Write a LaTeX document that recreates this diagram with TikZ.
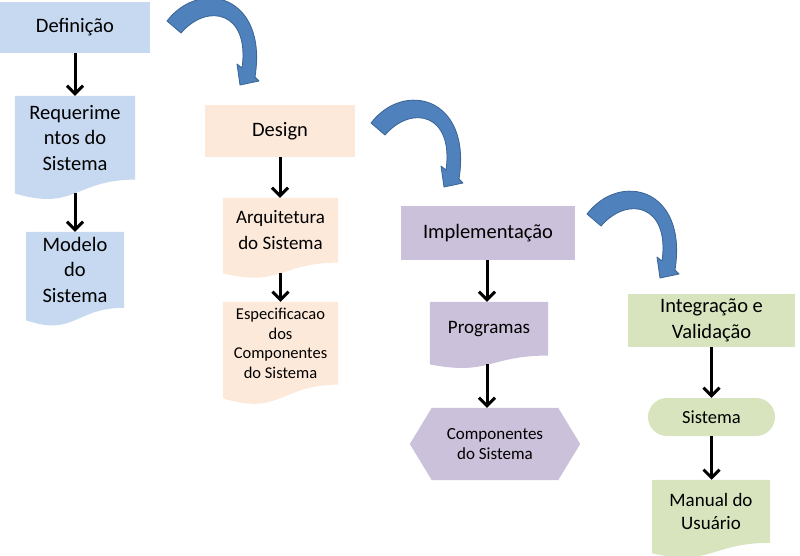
\documentclass[tikz,border=0pt]{standalone}
\usepackage{fontspec}
\setmainfont{Carlito}
\usetikzlibrary{arrows.meta,calc,backgrounds}
\definecolor{cblue}{HTML}{C6D9F1}
\definecolor{cpeach}{HTML}{FDE9D9}
\definecolor{clav}{HTML}{CCC1DA}
\definecolor{cgreen}{HTML}{D7E4BD}
\definecolor{arrblue}{HTML}{4F81BD}
\definecolor{arredge}{HTML}{3A6494}
\newcommand\mydocfill[2]{%
  \path[fill=#2] let \p1=(#1.north west), \p2=(#1.south east) in
    (\p1) -- (\x2,\y1) -- (\x2,\y2)
    .. controls ({(\x1+\x2)/2},\y2) and ({(\x1+\x2)/2},{\y2-0.381*(\y1-\y2)}) ..
    (\x1,{\y2-0.1646*(\y1-\y2)}) -- cycle;}
\tikzset{
  box/.style={rectangle, inner sep=0pt, align=center, text=black},
  big/.style={font=\fontsize{20.5}{25.5}\selectfont},
  mid/.style={font=\fontsize{19}{24}\selectfont},
  small/.style={font=\fontsize{16.5}{19.5}\selectfont},
  conn/.style={line width=3pt, -{Straight Barb[length=8pt,width=16pt]}},
  bendarrow/.pic={
    \path[fill=arrblue, draw=arredge, line width=0.8pt, line join=round]
      (167,21) .. controls (200,-22) and (268,-5) .. (255,77)
      -- (259,81) -- (240,85) -- (237,64) -- (242,68)
      .. controls (250,12) and (208,2) .. (181,33) -- cycle;
  }
}
\begin{document}
\begin{tikzpicture}[x=1pt,y=-1pt]
\useasboundingbox (0,0) rectangle (800,555);

% column 1
\node[box,big,fill=cblue,minimum width=150pt,minimum height=51pt] (def) at (75,27.5) {Definição};
\node[box,big,minimum width=120pt,minimum height=83.4pt] (req) at (75,137.7) {Requerime\\ntos do\\Sistema};
\node[box,big,minimum width=98pt,minimum height=75.6pt] (mod) at (75,269.8) {Modelo\\do\\Sistema};

% column 2
\node[box,big,fill=cpeach,minimum width=150pt,minimum height=52pt] (des) at (280,131) {Design};
\node[box,font=\fontsize{19}{26}\selectfont,minimum width=115pt,minimum height=64.5pt] (arq) at (280.5,230.2) {Arquitetura\\do Sistema};
\node[box,small,minimum width=115pt,minimum height=82.5pt] (esp) at (280.5,343.2) {Especificacao\\dos\\Componentes\\do Sistema};

% column 3
\node[box,big,fill=clav,minimum width=174pt,minimum height=54pt] (imp) at (488,233) {Implementação};
\node[box,mid,minimum width=118pt,minimum height=53.3pt] (prog) at (489,328.7) {Programas};
\node[box,font=\fontsize{17}{20}\selectfont,minimum width=170pt,minimum height=72pt] (comp) at (495,444) {Componentes\\do Sistema};

% column 4
\node[box,big,fill=cgreen,minimum width=167pt,minimum height=53pt] (int) at (711.5,320.5) {Integração e\\Validação};
\node[box,font=\fontsize{18.5}{23}\selectfont,fill=cgreen,rounded corners=19pt,minimum width=127pt,minimum height=38pt] (sis) at (711.5,417) {Sistema};
\node[box,font=\fontsize{19}{23}\selectfont,minimum width=118pt,minimum height=62.7pt] (man) at (711,511.3) {Manual do\\Usuário};

\begin{scope}[on background layer]
  \mydocfill{req}{cblue}
  \mydocfill{mod}{cblue}
  \mydocfill{arq}{cpeach}
  \mydocfill{esp}{cpeach}
  \mydocfill{prog}{clav}
  \mydocfill{man}{cgreen}
  \path[fill=clav] (comp.west) -- ([xshift=22pt]comp.north west) -- ([xshift=-22pt]comp.north east)
    -- (comp.east) -- ([xshift=-22pt]comp.south east) -- ([xshift=22pt]comp.south west) -- cycle;
\end{scope}

% connectors
\draw[conn] (def.south) -- (def.south |- req.north);
\draw[conn, shorten <=13.6pt] (req.south) -- (req.south |- mod.north);
\draw[conn] (des.south) -- (des.south |- arq.north);
\draw[conn, shorten <=10.5pt] (arq.south) -- (arq.south |- esp.north);
\draw[conn] ([xshift=-1pt]imp.south) -- ([xshift=-1pt]imp.south |- prog.north);
\draw[conn, shorten <=8.7pt] ([xshift=-2pt]prog.south) -- ([xshift=-2pt]prog.south |- comp.north);
\draw[conn] (int.south) -- (int.south |- sis.north);
\draw[conn] (sis.south) -- (sis.south |- man.north);

% curved block arrows
\pic at (0,0) {bendarrow};
\pic at (204,102) {bendarrow};
\pic at (420,193) {bendarrow};
\end{tikzpicture}
\end{document}
